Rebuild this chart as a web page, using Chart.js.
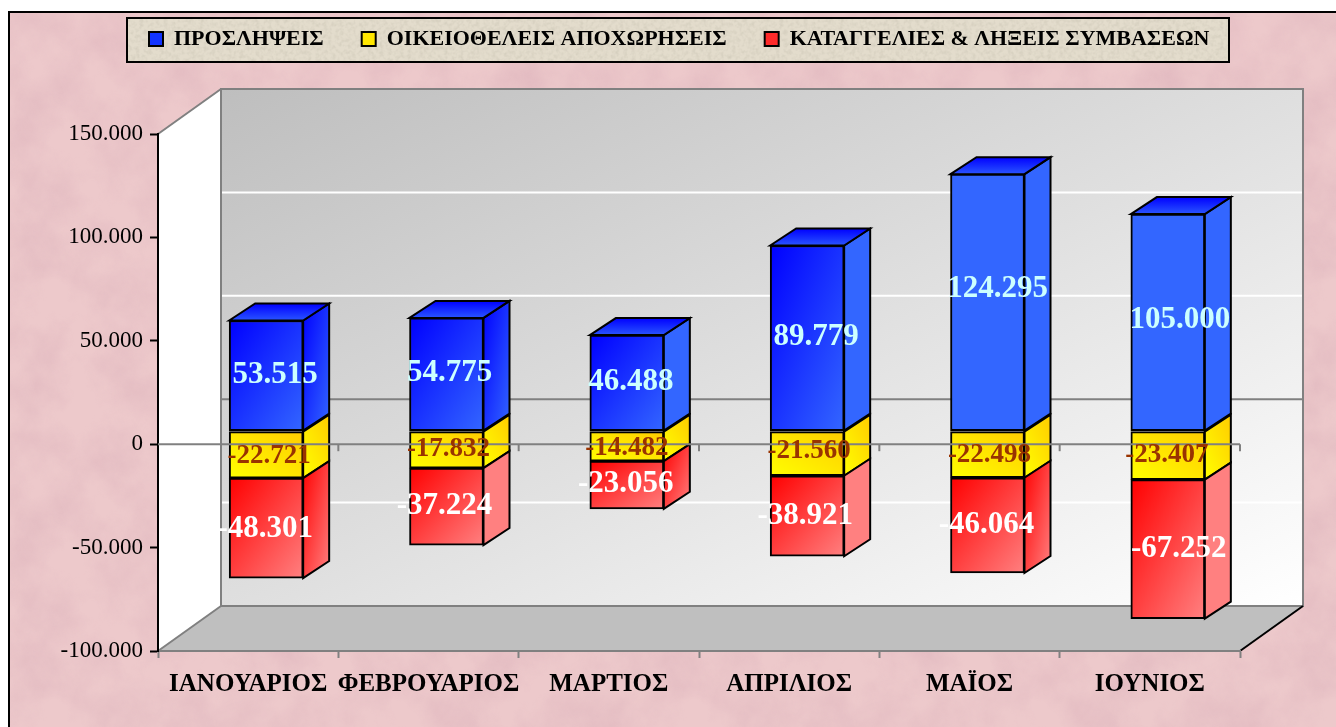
<!DOCTYPE html>
<html lang="el">
<head>
<meta charset="utf-8">
<title>Προσλήψεις και αποχωρήσεις</title>
<style>
html,body{margin:0;padding:0;width:1336px;height:727px;overflow:hidden;background:#fff}
#frame{position:absolute;left:8px;top:11px;width:1400px;height:800px;border:2px solid #000;background-color:#EDC9CB}
#panel{position:absolute;left:126px;top:17px;width:1100px;height:42px;border:2px solid #000;background-color:#E3DCCC}
canvas{position:absolute;left:0;top:0}
</style>
</head>
<body>
<div id="frame"></div>
<div id="panel"></div>
<canvas id="chart" width="1336" height="727"></canvas>
<script src="https://cdn.jsdelivr.net/npm/chart.js@4"></script>
<script>
const categories = ['ΙΑΝΟΥΑΡΙΟΣ','ΦΕΒΡΟΥΑΡΙΟΣ','ΜΑΡΤΙΟΣ','ΑΠΡΙΛΙΟΣ','ΜΑΪΟΣ','ΙΟΥΝΙΟΣ'];
const seriesNames = ['ΠΡΟΣΛΗΨΕΙΣ','ΟΙΚΕΙΟΘΕΛΕΙΣ ΑΠΟΧΩΡΗΣΕΙΣ','ΚΑΤΑΓΓΕΛΙΕΣ & ΛΗΞΕΙΣ ΣΥΜΒΑΣΕΩΝ'];
const hires = [53515,54775,46488,89779,124295,105000];
const resignations = [-22721,-17832,-14482,-21560,-22498,-23407];
const terminations = [-48301,-37224,-23056,-38921,-46064,-67252];

// Hand-placed data label nudges of the original (pixels from the segment centre)
const labelDx = [[9,3,4,9,10,12],[3,2,0,2,2,-1],[-1,-2,-1,-2,-1,11]];
const labelDy = [[-2,-2,-2,-2,-14,-3],[0,-2,1,-4,-1,-2],[0,-2,-2,-1,-1,-1]];
// Which faces show the full gradient in the original
const frontFade = [[1,1,1,1,0,0],[1,1,1,1,1,1],[1,1,1,1,1,1]];
const sideFade = [[1,1,0,0,0,0],[1,1,1,1,1,1],[1,0,1,0,1,0]];

const palette = [
  {from:'#0000FF',to:'#3366FF',flip:false,text:'#CCFFFF',font:'bold 31px "Liberation Serif"'},
  {from:'#FFFF00',to:'#FFCC00',flip:true,text:'#993300',font:'bold 27px "Liberation Serif"'},
  {from:'#FF0000',to:'#FF8080',flip:false,text:'#FFFFFF',font:'bold 31px "Liberation Serif"'}
];
const BAR_SHIFT = {x:18,y:-13};
const BAR_DEPTH = {x:26,y:-17};
const WALL_DEPTH = {x:63,y:-45};

function tex(freq,oct,seed,matrix){
  const svg = `<svg xmlns='http://www.w3.org/2000/svg' width='640' height='420'><filter id='n' x='0' y='0' width='100%' height='100%'><feTurbulence type='fractalNoise' baseFrequency='${freq}' numOctaves='${oct}' seed='${seed}' stitchTiles='stitch'/><feColorMatrix values='${matrix}'/></filter><rect width='640' height='420' filter='url(#n)'/></svg>`;
  return `url("data:image/svg+xml,${encodeURIComponent(svg)}")`;
}
document.getElementById('frame').style.backgroundImage = tex(0.02,5,7,'0 0 0 0 .72  0 0 0 0 .45  0 0 0 0 .50  1.1 0 0 0 -.38');
document.getElementById('panel').style.backgroundImage = tex(0.25,3,4,'0 0 0 0 .62  0 0 0 0 .58  0 0 0 0 .48  1.4 0 0 0 -.55');

function fmt(v){return String(v).replace(/\B(?=(\d{3})+$)/g,'.');}

// Diagonal gradient whose iso-lines run parallel to the box's anti-diagonal
function diag(ctx,x0,y0,x1,y1,c0,c1,flip){
  const w=x1-x0,h=y1-y0,t=2*w*h/(w*w+h*h||1);
  let g;
  if(flip){ // bottom-left -> top-right
    g=ctx.createLinearGradient(x0,y1,x0+h*t,y1-w*t);
  }else{
    g=ctx.createLinearGradient(x0,y0,x0+h*t,y0+w*t);
  }
  g.addColorStop(0,c0);g.addColorStop(1,c1);
  return g;
}
function poly(ctx,pts,fill,stroke,lw){
  ctx.beginPath();
  pts.forEach((p,i)=>i?ctx.lineTo(p[0],p[1]):ctx.moveTo(p[0],p[1]));
  ctx.closePath();
  if(fill){ctx.fillStyle=fill;ctx.fill();}
  if(stroke){ctx.strokeStyle=stroke;ctx.lineWidth=lw||2;ctx.stroke();}
}
function seg(ctx,x0,y0,x1,y1,color,lw){
  ctx.beginPath();ctx.moveTo(x0,y0);ctx.lineTo(x1,y1);
  ctx.strokeStyle=color;ctx.lineWidth=lw||2;ctx.stroke();
}

const chart3d = {
  id:'chart3d',
  afterLayout(chart){
    const lg=chart.legend;
    const pad=chart.options.plugins.legend.labels.padding;
    lg.left=149-pad; lg.right=1336; lg.top=28-pad;
  },
  beforeDraw(chart){
    const {ctx,chartArea:a,scales:{y}}=chart;
    const d=WALL_DEPTH, GRAY='#808080';
    const bx0=a.left+d.x,bx1=a.right+d.x,by0=a.top+d.y,by1=a.bottom+d.y;
    ctx.save();
    poly(ctx,[[a.left,a.top],[bx0,by0],[bx0,by1],[a.left,a.bottom]],'#FFFFFF');
    poly(ctx,[[bx0,by0],[bx1,by0],[bx1,by1],[bx0,by1]],diag(ctx,bx0,by0,bx1,by1,'#BEBEBE','#FFFFFF',false));
    poly(ctx,[[a.left,a.bottom],[bx0,by1],[bx1,by1],[a.right,a.bottom]],'#BFBFBF');
    y.ticks.forEach(t=>{
      const py=y.getPixelForValue(t.value)+d.y;
      if(t.value===0) seg(ctx,bx0,py,bx1,py,GRAY,2);
      else if(py>by0+1&&py<by1-1) seg(ctx,bx0,py,bx1,py,'#FFFFFF',2);
    });
    poly(ctx,[[bx0,by0],[bx1,by0],[bx1,by1],[bx0,by1]],null,GRAY,2);
    seg(ctx,a.left,a.top,bx0,by0,GRAY,2);
    seg(ctx,a.left,a.bottom,bx0,by1,GRAY,2);
    seg(ctx,a.right,a.bottom,bx1,by1,'#000000',2);
    ctx.restore();
  },
  beforeDatasetsDraw(chart){
    const ctx=chart.ctx, s=BAR_SHIFT, b=BAR_DEPTH;
    ctx.save();
    ctx.translate(s.x,s.y);
    ctx.lineJoin='miter';
    chart.data.datasets.forEach((ds,di)=>{
      const pal=palette[di];
      chart.getDatasetMeta(di).data.forEach((el,i)=>{
        const l=el.x-el.width/2,r=el.x+el.width/2;
        const top=Math.min(el.y,el.base),bot=Math.max(el.y,el.base);
        const sideFill=sideFade[di][i]?diag(ctx,r,top+b.y,r+b.x,bot,pal.from,pal.to,pal.flip):pal.to;
        poly(ctx,[[r,top],[r+b.x,top+b.y],[r+b.x,bot+b.y],[r,bot]],sideFill,'#000',2);
        if(di===0){
          const tg=ctx.createLinearGradient(0,top+b.y,0,top);
          tg.addColorStop(0,'#0000FF');tg.addColorStop(1,'#2A55FF');
          poly(ctx,[[l,top],[l+b.x,top+b.y],[r+b.x,top+b.y],[r,top]],tg,'#000',2);
        }
        const fill=frontFade[di][i]?diag(ctx,l,top,r,bot,pal.from,pal.to,pal.flip):pal.to;
        el.options=Object.assign({},el.options,{backgroundColor:fill});
      });
    });
  },
  afterDatasetsDraw(chart){
    const {ctx,chartArea:a,scales:{y}}=chart, s=BAR_SHIFT;
    ctx.restore();
    ctx.save();
    const zero=y.getPixelForValue(0), GRAY='#808080';
    seg(ctx,a.left,zero,a.right,zero,GRAY,2);
    const step=(a.right-a.left)/categories.length;
    for(let i=1;i<=categories.length;i++){
      const x=a.left+i*step;
      seg(ctx,x,zero,x,zero+7,GRAY,2);
    }
    ctx.textAlign='center';ctx.textBaseline='middle';
    chart.data.datasets.forEach((ds,di)=>{
      ctx.font=palette[di].font;ctx.fillStyle=palette[di].text;
      chart.getDatasetMeta(di).data.forEach((el,i)=>{
        const cy=(el.y+el.base)/2+s.y+labelDy[di][i];
        ctx.fillText(fmt(ds.data[i]),el.x+s.x+labelDx[di][i],cy+1);
      });
    });
    ctx.restore();
  }
};

const allSeries=[hires,resignations,terminations];
new Chart(document.getElementById('chart'),{
  type:'bar',
  data:{
    labels:categories,
    datasets:allSeries.map((vals,i)=>({
      label:seriesNames[i],data:vals,
      backgroundColor:palette[i].to,borderColor:'#000',borderWidth:2,borderSkipped:false,
      barThickness:74,stack:'s'
    }))
  },
  plugins:[chart3d],
  options:{
    responsive:false,animation:false,
    layout:{padding:{left:0,right:96,top:64,bottom:0}},
    datasets:{bar:{clip:false}},
    plugins:{
      tooltip:{enabled:false},
      title:{display:false},
      legend:{
        display:true,position:'top',align:'start',
        labels:{
          font:{family:'"Liberation Serif"',size:22,weight:'bold'},color:'#000',
          boxWidth:14,boxHeight:14,padding:38,
          generateLabels(){return seriesNames.map((n,i)=>({
            text:n,fillStyle:['#1133FF','#FFE600','#FF2A2A'][i],strokeStyle:'#000',lineWidth:2,datasetIndex:i}));}
        }
      }
    },
    scales:{
      x:{
        stacked:true,offset:true,
        afterFit(s){s.height=76;},
        grid:{display:true,drawOnChartArea:false,drawTicks:true,tickLength:7,tickColor:'#808080',tickWidth:2,offset:true},
        border:{display:true,color:'#808080',width:2},
        ticks:{font:{family:'"Liberation Serif"',size:25,weight:'bold'},color:'#000',maxRotation:0,minRotation:0,autoSkip:false,padding:12}
      },
      y:{
        stacked:true,min:-100000,max:150000,
        afterFit(s){s.width=158;},
        grid:{display:true,drawOnChartArea:false,drawTicks:true,tickLength:8,tickColor:'#000',tickWidth:2},
        border:{display:true,color:'#000',width:2},
        ticks:{stepSize:50000,font:{family:'"Liberation Serif"',size:23},color:'#000',padding:7,callback:v=>fmt(v)}
      }
    }
  }
});
</script>
</body>
</html>
